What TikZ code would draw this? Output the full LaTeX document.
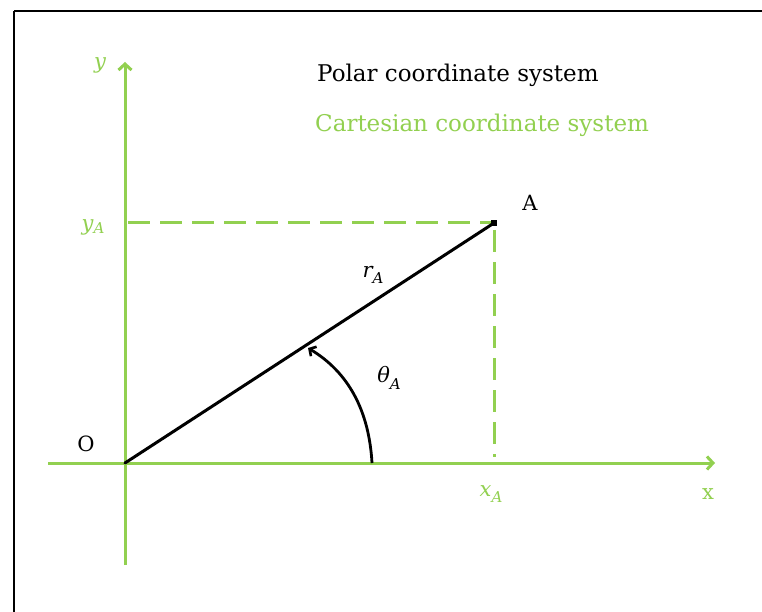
\documentclass[tikz,border=0pt]{standalone}
\usepackage{fontspec}
\setmainfont{DejaVu Serif}
\usetikzlibrary{arrows.meta}
\definecolor{cgreen}{HTML}{92D050}
\begin{document}
\begin{tikzpicture}[x=1pt,y=-1pt,
  axis/.style={draw=cgreen,line width=3pt,-{Straight Barb[length=6pt,width=13pt,line width=3pt]}},
  dashline/.style={draw=cgreen,line width=3pt,dash pattern=on 22pt off 10pt},
  glabel/.style={text=cgreen,font=\fontsize{21}{21}\selectfont,inner sep=0pt},
  blabel/.style={text=black,font=\fontsize{21}{21}\selectfont,inner sep=0pt}]
\useasboundingbox (0,0) rectangle (762,612);
\clip (0,0) rectangle (762,612);
\fill[white] (0,0) rectangle (762,612);
\draw[line width=2.6pt] (14,11) -- (800,11) (14,11) -- (14,700);
% coordinates
\coordinate (O) at (125,463);
\coordinate (A) at (494,223);
\coordinate (xs) at (48,463);
\coordinate (xe) at (715,463);
\coordinate (ys) at (125,565);
\coordinate (ye) at (125,62);
\coordinate (hd1) at (128,223);
\coordinate (hd2) at (491,223);
\coordinate (vd1) at (494,230);
\coordinate (vd2) at (494,457);
\coordinate (arcS) at (372,463);
\coordinate (arcE) at (308,348);
% axes
\draw[axis] (xs) -- (xe);
\draw[axis] (ys) -- (ye);
% dashed projections
\draw[dashline] (hd1) -- (hd2);
\draw[dashline] (vd1) -- (vd2);
% radius
\draw[line width=3pt,line cap=round] (O) -- (A);
\fill (A) ++(-3,-3) rectangle ++(6,6);
% angle arc
\draw[line width=2.8pt,-{Straight Barb[length=5pt,width=11pt,line width=2.6pt]}]
  (arcS) .. controls (369,410) and (348,372) .. (arcE);
% labels
\node[glabel] (ly) at (100,65) {\itshape y};
\node[glabel] (lyA) at (93,227) {\itshape y\raisebox{-0.35ex}{\fontsize{15}{15}\selectfont A}};
\node[blabel] (lO) at (86,444) {O};
\node[glabel] (lx) at (708,494) {x};
\node[glabel] (lxA) at (491,494) {\itshape x\raisebox{-0.5ex}{\fontsize{15}{15}\selectfont A}};
\node[blabel] (lA) at (530,203) {A};
\node[blabel] (lr) at (373,275) {\itshape r\raisebox{-0.6ex}{\fontsize{15}{15}\selectfont A}};
\node[blabel] (lt) at (389,378) {\itshape θ\raisebox{-0.6ex}{\fontsize{15}{15}\selectfont A}};
\node[blabel,anchor=base west,font=\fontsize{23}{23}\selectfont] (t1) at (317,82) {Polar coordinate system};
\node[glabel,anchor=base west,font=\fontsize{23}{23}\selectfont] (t2) at (315,132) {Cartesian coordinate system};
\end{tikzpicture}
\end{document}
